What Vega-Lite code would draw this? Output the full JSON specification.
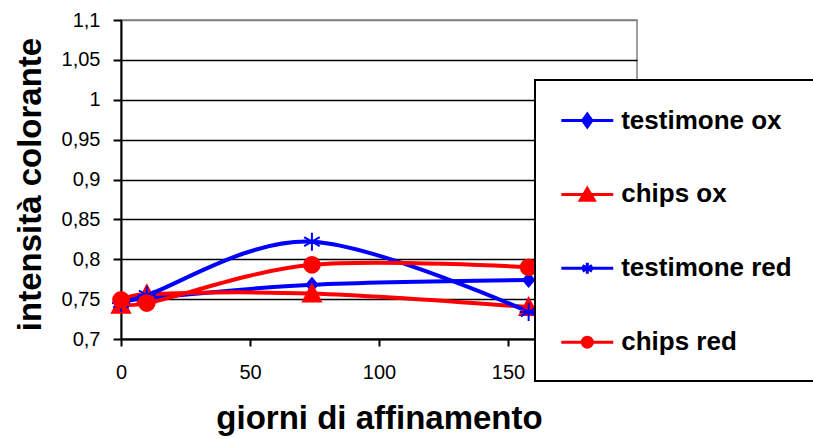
{
  "$schema": "https://vega.github.io/schema/vega-lite/v6.json",
  "autosize": {"type": "none"},
  "width": 516,
  "height": 319,
  "padding": {"left": 121, "top": 20, "right": 176, "bottom": 100},
  "background": "white",
  "config": {
    "font": "Liberation Sans",
    "view": {"stroke": "#808080", "strokeWidth": 1.5}
  },
  "data": {
    "values": [
      {"giorni": 0, "intensita": 0.745, "serie": "testimone ox"},
      {"giorni": 10, "intensita": 0.751, "serie": "testimone ox"},
      {"giorni": 74, "intensita": 0.768, "serie": "testimone ox"},
      {"giorni": 158, "intensita": 0.774, "serie": "testimone ox"},
      {"giorni": 0, "intensita": 0.743, "serie": "chips ox"},
      {"giorni": 10, "intensita": 0.756, "serie": "chips ox"},
      {"giorni": 74, "intensita": 0.757, "serie": "chips ox"},
      {"giorni": 158, "intensita": 0.740, "serie": "chips ox"},
      {"giorni": 0, "intensita": 0.745, "serie": "testimone red"},
      {"giorni": 10, "intensita": 0.755, "serie": "testimone red"},
      {"giorni": 74, "intensita": 0.822, "serie": "testimone red"},
      {"giorni": 158, "intensita": 0.734, "serie": "testimone red"},
      {"giorni": 0, "intensita": 0.749, "serie": "chips red"},
      {"giorni": 10, "intensita": 0.745, "serie": "chips red"},
      {"giorni": 74, "intensita": 0.793, "serie": "chips red"},
      {"giorni": 158, "intensita": 0.790, "serie": "chips red"}
    ]
  },
  "encoding": {
    "x": {
      "field": "giorni",
      "type": "quantitative",
      "scale": {"domain": [0, 200], "nice": false},
      "axis": {
        "title": "giorni di affinamento",
        "titleFont": "Liberation Sans",
        "titleFontSize": 33,
        "titleFontWeight": "bold",
        "titleColor": "black",
        "titleX": 258,
        "titleY": 89,
        "titleBaseline": "alphabetic",
        "titleAlign": "center",
        "values": [0, 50, 100, 150],
        "grid": false,
        "domainColor": "black",
        "domainWidth": 2,
        "tickColor": "black",
        "tickWidth": 2,
        "tickSize": 7,
        "labelFont": "Liberation Sans",
        "labelFontSize": 20,
        "labelColor": "black",
        "labelPadding": 16,
        "labelFlush": false
      }
    },
    "y": {
      "field": "intensita",
      "type": "quantitative",
      "scale": {"domain": [0.7, 1.1], "nice": false, "zero": false},
      "axis": {
        "title": "intensità colorante",
        "titleFont": "Liberation Sans",
        "titleFontSize": 33,
        "titleFontWeight": "bold",
        "titleColor": "black",
        "titleAngle": 270,
        "titleX": -81,
        "titleY": 164,
        "titleAlign": "center",
        "titleBaseline": "alphabetic",
        "values": [0.7, 0.75, 0.8, 0.85, 0.9, 0.95, 1, 1.05, 1.1],
        "labelExpr": "replace(format(datum.value, '.2~f'), '.', ',')",
        "grid": true,
        "gridColor": {"condition": {"test": "datum.value >= 1.09", "value": "#808080"}, "value": "black"},
        "gridWidth": 1.5,
        "domainColor": "black",
        "domainWidth": 2,
        "tickColor": "black",
        "tickWidth": 2,
        "tickSize": 8,
        "labelFont": "Liberation Sans",
        "labelFontSize": 20,
        "labelColor": "black",
        "labelPadding": 13
      }
    }
  },
  "layer": [
    {
      "mark": {"type": "line", "interpolate": "cardinal", "strokeWidth": 4},
      "encoding": {
        "color": {
          "field": "serie",
          "type": "nominal",
          "scale": {
            "domain": ["testimone ox", "chips ox", "testimone red", "chips red"],
            "range": ["#0000ff", "#ff0000", "#0000ff", "#ff0000"]
          },
          "legend": {
            "title": null,
            "orient": "none",
            "legendX": 414,
            "legendY": 60,
            "padding": 25.5,
            "rowPadding": 45.9,
            "symbolSize": 702,
            "symbolStrokeWidth": 3,
            "labelOffset": 30.7,
            "labelFont": "Liberation Sans",
            "labelFontSize": 26,
            "labelFontWeight": "bold",
            "labelColor": "black",
            "labelLimit": 400,
            "fillColor": "white",
            "strokeColor": "black",
            "encode": {
              "legend": {
                "update": {"strokeWidth": {"value": 2}}
              },
              "symbols": {
                "update": {
                  "shape": {"signal": "datum.value === 'testimone ox' ? 'M-1.07,0H2.85M0.89,-0.49L1.24,0L0.89,0.49L0.54,0Z' : datum.value === 'chips ox' ? 'M-1.07,0H2.85M0.89,-0.45L1.42,0.45L0.36,0.45Z' : datum.value === 'testimone red' ? 'M-1.07,0H2.85M0.89,-0.42V0.42M0.53,-0.21L1.25,0.21M0.53,0.21L1.25,-0.21' : 'M-1.07,0H2.85M0.513,0A0.377,0.377 0 1,1 1.267,0A0.377,0.377 0 1,1 0.513,0Z'"},
                  "fill": {"signal": "indexof(['chips ox', 'chips red'], datum.value) >= 0 ? '#ff0000' : '#0000ff'"},
                  "stroke": {"signal": "indexof(['chips ox', 'chips red'], datum.value) >= 0 ? '#ff0000' : '#0000ff'"},
                  "strokeWidth": {"value": 3},
                  "opacity": {"value": 1},
                  "fillOpacity": {"value": 1},
                  "strokeOpacity": {"value": 1}
                }
              }
            }
          }
        }
      }
    },
    {
      "transform": [{"filter": "datum.serie === 'testimone ox'"}],
      "mark": {"type": "point", "shape": "M0,-0.65L0.55,0L0,0.65L-0.55,0Z", "filled": true, "size": 400, "color": "#0000ff", "stroke": "#0000ff", "strokeWidth": 2, "opacity": 1}
    },
    {
      "transform": [{"filter": "datum.serie === 'chips ox'"}],
      "mark": {"type": "point", "shape": "M0,-0.9L0.9,0.8L-0.9,0.8Z", "filled": true, "size": 400, "color": "#ff0000", "stroke": "#ff0000", "strokeWidth": 2, "opacity": 1}
    },
    {
      "transform": [{"filter": "datum.serie === 'testimone red'"}],
      "mark": {"type": "point", "shape": "M0,-0.9V0.9M-0.78,-0.45L0.78,0.45M-0.78,0.45L0.78,-0.45M-0.9,0H0.9", "filled": false, "size": 400, "color": "#0000ff", "stroke": "#0000ff", "strokeWidth": 2, "opacity": 1}
    },
    {
      "transform": [{"filter": "datum.serie === 'chips red'"}],
      "mark": {"type": "point", "shape": "M-0.785,0A0.785,0.785 0 1,1 0.785,0A0.785,0.785 0 1,1 -0.785,0Z", "filled": true, "size": 400, "color": "#ff0000", "stroke": "#ff0000", "strokeWidth": 2, "opacity": 1}
    }
  ]
}
